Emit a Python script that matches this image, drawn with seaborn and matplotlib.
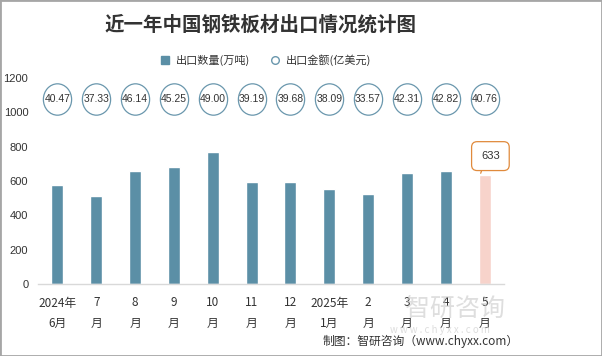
import matplotlib
matplotlib.use('Agg')
import numpy as np
import pandas as pd
import seaborn as sns
from matplotlib import pyplot as plt
from matplotlib.lines import Line2D
from matplotlib.patches import Rectangle
from matplotlib.path import Path

months = ['2024年\n6月', '7\n月', '8\n月', '9\n月', '10\n月', '11\n月', '12\n月',
          '2025年\n1月', '2\n月', '3\n月', '4\n月', '5\n月']
qty = [578, 513, 658, 681, 769, 594, 594, 553, 524, 646, 658, 633]
amount = [40.47, 37.33, 46.14, 45.25, 49.00, 39.19, 39.68, 38.09, 33.57, 42.31, 42.82, 40.76]

bar_color = '#5b8fa6'
last_color = '#f7d3cb'
circle_edge = '#6a97ad'
num_font = ['Liberation Sans', 'DejaVu Sans']

sns.set_theme(style='white')
plt.rcParams['font.family'] = ['Noto Sans CJK SC', 'DejaVu Sans']

df = pd.DataFrame({'month': months, 'qty': qty})
colors = [bar_color] * (len(months) - 1) + [last_color]

fig = plt.figure(figsize=(6.02, 3.56), dpi=100)
ax = fig.add_axes([38 / 602, 1 - 284 / 356, 466 / 602, 206 / 356])

sns.barplot(data=df, x='month', y='qty', hue='month', palette=colors,
            legend=False, width=0.31, saturation=1, ax=ax)

# amount circles (slightly tall ellipses) above the bars
circ = Path.unit_circle()
ellipse = Path(circ.vertices * np.array([0.9, 1.0]), circ.codes)
xs = np.arange(len(months))
ax.scatter(xs, [1080] * len(xs), s=510, marker=ellipse, facecolor='white',
           edgecolor=circle_edge, linewidth=0.9, zorder=3, clip_on=False)
for x, v in zip(xs, amount):
    ax.text(x, 1080, f'{v:.2f}', ha='center', va='center', fontsize=7.5,
            color='#333333', zorder=4, family=num_font)

ax.set_ylim(0, 1200)
ax.set_xlim(-0.5, len(months) - 0.5)
ax.set_yticks(range(0, 1201, 200))
ax.set_xlabel('')
ax.set_ylabel('')
ax.tick_params(axis='y', labelsize=8, length=0, pad=7, labelcolor='#333333')
ax.tick_params(axis='x', labelsize=8.5, length=0, pad=9, labelcolor='#333333')
for lab in ax.get_yticklabels():
    lab.set_family(num_font)
for lab in ax.get_xticklabels():
    lab.set_linespacing(1.75)
for s in ['top', 'right', 'left']:
    ax.spines[s].set_visible(False)
ax.spines['bottom'].set_color('#d9d9d9')
ax.spines['bottom'].set_linewidth(1)

# callout for the last bar
last = len(months) - 1
ax.annotate(f'{qty[last]}', xy=(last - 0.1, qty[last] + 12), xytext=(last + 0.15, 745),
            ha='center', va='center', fontsize=8, color='#333333', family=num_font,
            bbox=dict(boxstyle='round,pad=0.85,rounding_size=0.5', fc='white',
                      ec='#e08a3c', lw=0.9),
            arrowprops=dict(arrowstyle='-', color='#e08a3c', lw=0.9,
                            shrinkA=0, shrinkB=0, relpos=(0.2, 0)),
            annotation_clip=False, zorder=5)

fig.text(0.432, 0.93, '近一年中国钢铁板材出口情况统计图', ha='center', va='center',
         fontsize=14, fontweight='bold', color='#333333')

handles = [Line2D([], [], marker='s', linestyle='', markersize=5.5,
                  markerfacecolor=bar_color, markeredgecolor=bar_color),
           Line2D([], [], marker='o', linestyle='', markersize=5.5,
                  markerfacecolor='white', markeredgecolor=circle_edge)]
fig.legend(handles, ['出口数量(万吨)', '出口金额(亿美元)'], loc='center',
           bbox_to_anchor=(0.436, 0.832), ncol=2, frameon=False, fontsize=8,
           handletextpad=0.0, columnspacing=1.2, labelcolor='#333333')

# watermark
fig.text(0.756, 0.132, '智研咨询', ha='center', va='center', fontsize=18,
         color='#c8c8c8', alpha=0.6)
fig.text(0.73, 0.073, 'w w w . c h y x x . c o m', ha='center', va='center',
         fontsize=7, color='#cfcfcf', alpha=0.7)
fig.text(0.862, 0.04, '制图：智研咨询（www.chyxx.com）', ha='right', va='center',
         fontsize=8.5, color='#333333')

fig.patches.append(Rectangle((0, 0), 1, 1, transform=fig.transFigure, fill=False,
                             edgecolor='#a6a6a6', linewidth=2))

fig.savefig('out.png', dpi=100)
